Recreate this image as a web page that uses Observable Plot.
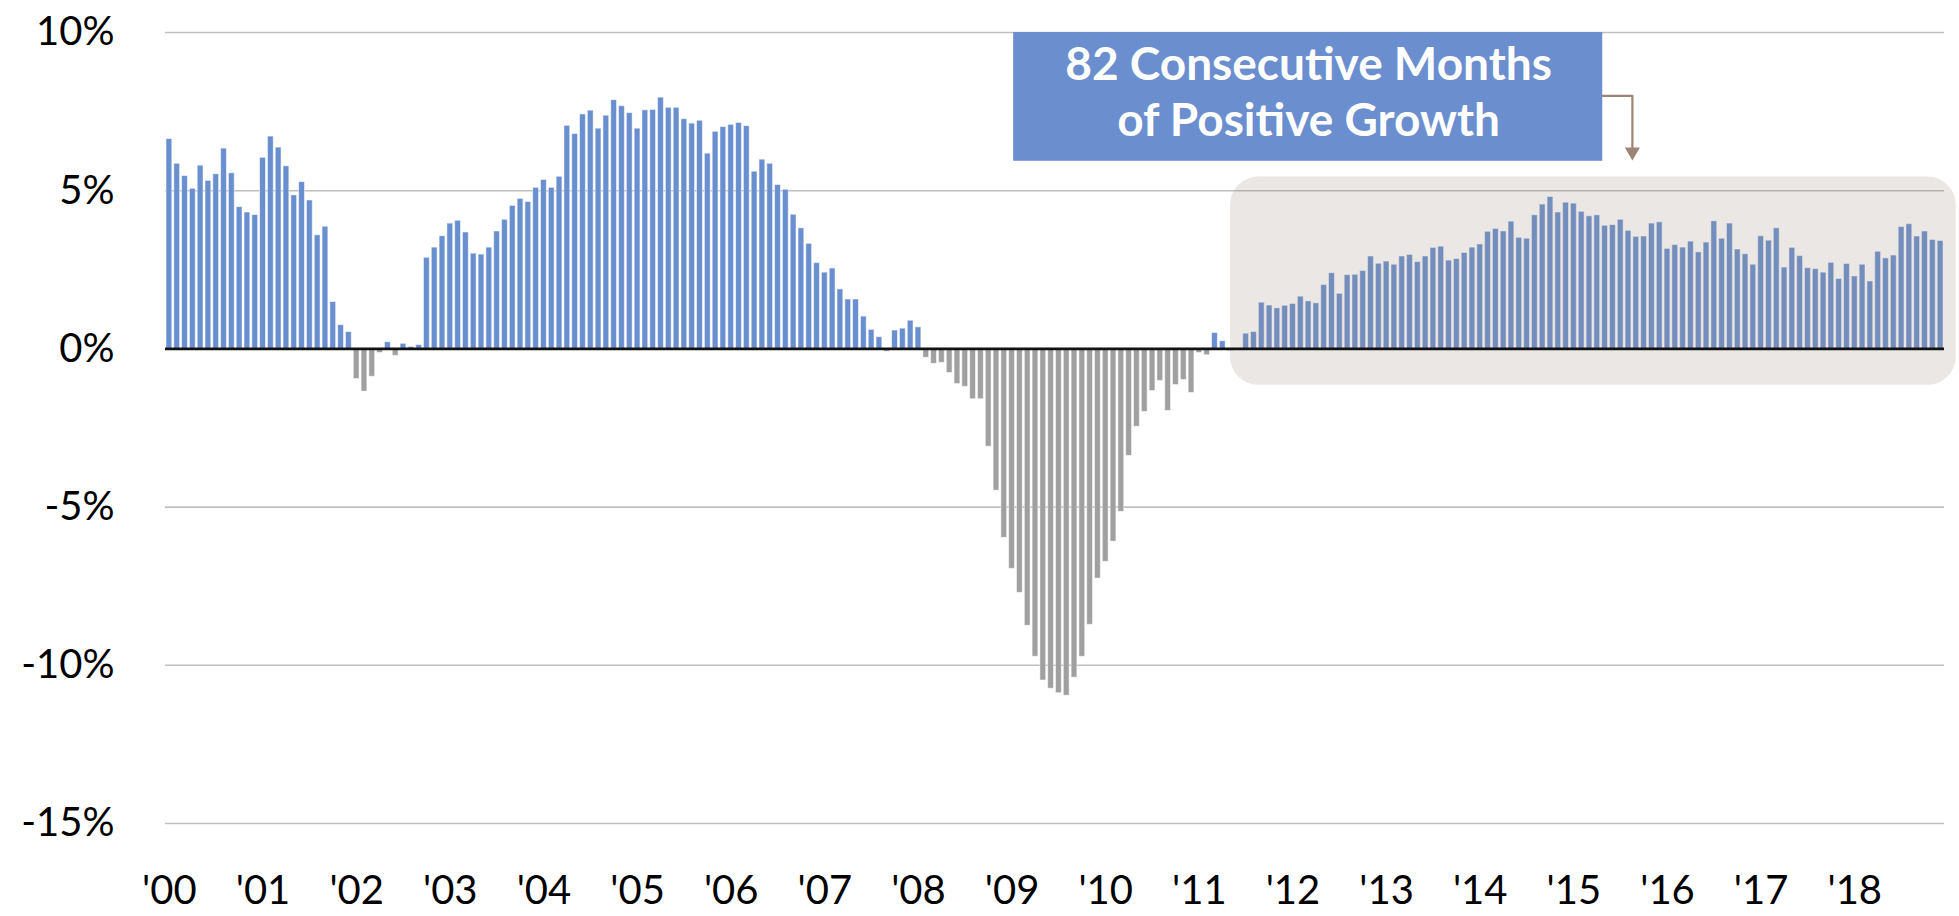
<!DOCTYPE html>
<html>
<head>
<meta charset="utf-8">
<script src="https://cdn.jsdelivr.net/npm/d3@7"></script>
<script src="https://cdn.jsdelivr.net/npm/@observablehq/plot@0.6"></script>
<style>
  html, body { margin: 0; padding: 0; background: #fff; }
  #chart svg { display: block; }
</style>
</head>
<body>
<div id="chart"></div>
<script>
// Year-over-year growth (%), monthly, Jan 2000 – Dec 2018
const v2000 = [6.63, 5.85, 5.46, 5.06, 5.79, 5.31, 5.52, 6.33, 5.55, 4.48, 4.31, 4.23];
const v2001 = [6.04, 6.71, 6.36, 5.77, 4.85, 5.27, 4.69, 3.59, 3.86, 1.48, 0.75, 0.53];
const v2002 = [-0.95, -1.35, -0.88, -0.13, 0.21, -0.22, 0.16, 0.06, 0.12, 2.88, 3.2, 3.56];
const v2003 = [3.96, 4.05, 3.68, 3.01, 2.98, 3.2, 3.71, 4.08, 4.52, 4.74, 4.64, 5.09];
const v2004 = [5.34, 5.09, 5.44, 7.05, 6.79, 7.41, 7.53, 6.96, 7.37, 7.86, 7.67, 7.45];
const v2005 = [6.96, 7.54, 7.55, 7.94, 7.62, 7.62, 7.26, 7.12, 7.21, 6.17, 6.86, 7.01];
const v2006 = [7.08, 7.14, 7.04, 5.6, 5.98, 5.85, 5.18, 5.03, 4.24, 3.81, 3.32, 2.71];
const v2007 = [2.41, 2.54, 1.88, 1.56, 1.56, 1.02, 0.6, 0.37, -0.09, 0.58, 0.64, 0.89];
const v2008 = [0.68, -0.28, -0.47, -0.44, -0.76, -1.11, -1.2, -1.59, -1.59, -3.09, -4.48, -5.97];
const v2009 = [-6.95, -7.71, -8.75, -9.73, -10.48, -10.74, -10.88, -10.96, -10.39, -9.73, -8.72, -7.26];
const v2010 = [-6.73, -6.09, -5.15, -3.38, -2.46, -1.99, -1.33, -1.01, -1.96, -1.14, -0.98, -1.39];
const v2011 = [-0.13, -0.2, 0.5, 0.24, -0.07, 0.0, 0.48, 0.53, 1.46, 1.37, 1.28, 1.36];
const v2012 = [1.42, 1.65, 1.5, 1.44, 2.02, 2.39, 1.74, 2.33, 2.34, 2.46, 2.92, 2.69];
const v2013 = [2.76, 2.66, 2.92, 2.97, 2.74, 2.92, 3.19, 3.23, 2.79, 2.84, 3.03, 3.2];
const v2014 = [3.3, 3.7, 3.79, 3.71, 4.02, 3.51, 3.48, 4.22, 4.56, 4.8, 4.31, 4.62];
const v2015 = [4.59, 4.33, 4.19, 4.22, 3.89, 3.91, 4.08, 3.73, 3.54, 3.55, 3.96, 4.0];
const v2016 = [3.16, 3.28, 3.2, 3.39, 3.05, 3.36, 4.03, 3.48, 3.96, 3.14, 2.99, 2.66];
const v2017 = [3.56, 3.42, 3.81, 2.57, 3.19, 2.93, 2.55, 2.52, 2.41, 2.72, 2.21, 2.68];
const v2018 = [2.29, 2.66, 2.13, 3.07, 2.86, 2.95, 3.85, 3.94, 3.55, 3.71, 3.44, 3.41];

const yearSeries = [v2000, v2001, v2002, v2003, v2004, v2005, v2006, v2007, v2008, v2009,
                    v2010, v2011, v2012, v2013, v2014, v2015, v2016, v2017, v2018];
const yearLabels = ["'00","'01","'02","'03","'04","'05","'06","'07","'08","'09",
                    "'10","'11","'12","'13","'14","'15","'16","'17","'18"];
const yTicks = [10, 5, 0, -5, -10, -15];
const gridTicks = [10, 5, -5, -10, -15];

// Annotation (in data units: month index, percent)
const calloutLines = ["82 Consecutive Months", "of Positive Growth"];
const calloutBox = [{x1: 108.2, x2: 183.7, y1: 5.93, y2: 10}];
const calloutText = [{x: 146, y: 8.17, t: calloutLines.join("\n")}];
const arrowPath = [{x: 183.7, y: 8.0}, {x: 187.5, y: 8.0}, {x: 187.5, y: 6.3}];
const arrowHead = [{x: 187.5, y: 6.23}];
const highlight = [{x1: 136.0, x2: 229.0, y1: -1.15, y2: 5.43}];

const data = yearSeries.flatMap((arr, yi) => arr.map((v, m) => ({i: yi * 12 + m, v})));
const pos = data.filter(d => d.v >= 0);
const neg = data.filter(d => d.v < 0);
const barHalf = 0.37;

const chart = Plot.plot({
  width: 1959,
  height: 916,
  marginTop: 32,
  marginBottom: 93,
  marginLeft: 165,
  marginRight: 15,
  style: {fontFamily: "Lato, 'DejaVu Sans', sans-serif", fontSize: "40px", color: "#000", background: "#fff"},
  x: {type: "linear", domain: [-0.5, 227.5]},
  y: {domain: [-15, 10]},
  marks: [
    Plot.ruleY(gridTicks, {stroke: "#BFBFBF", strokeWidth: 1.6}),
    Plot.rectY(pos, {x1: d => d.i - barHalf, x2: d => d.i + barHalf, y: "v", fill: "#6A8FCF",
                     stroke: "#ffffff", strokeOpacity: 0.55, strokeWidth: 0.9}),
    Plot.rectY(neg, {x1: d => d.i - barHalf, x2: d => d.i + barHalf, y: "v", fill: "#A0A0A0",
                     stroke: "#ffffff", strokeOpacity: 0.55, strokeWidth: 0.9}),
    Plot.rect(highlight, {x1: "x1", x2: "x2", y1: "y1", y2: "y2", fill: "#9C8577", fillOpacity: 0.2, rx: 28, ry: 28}),
    Plot.ruleY([0], {stroke: "#111", strokeWidth: 2.6}),
    Plot.rect(calloutBox, {x1: "x1", x2: "x2", y1: "y1", y2: "y2", fill: "#6A8ECE"}),
    Plot.text(calloutText, {x: "x", y: "y", text: "t", fill: "#fff", fontWeight: "bold", fontSize: 46,
                            lineHeight: 1.22, fontFamily: "Lato, 'Open Sans', sans-serif"}),
    Plot.line(arrowPath, {x: "x", y: "y", stroke: "#9C8577", strokeWidth: 2.2, curve: "linear"}),
    Plot.dot(arrowHead, {x: "x", y: "y", symbol: "triangle", r: 5.6, rotate: 180, fill: "#9C8577", stroke: "none"}),
    Plot.axisY({ticks: yTicks, tickFormat: d => d + "%", tickSize: 0, tickPadding: 51, label: null, fontSize: 40}),
    Plot.axisX({ticks: yearLabels.map((_, k) => k * 12), tickFormat: d => yearLabels[Math.round(d / 12)],
                tickSize: 0, tickPadding: 52, label: null, fontSize: 40})
  ]
});
document.getElementById("chart").appendChild(chart);
</script>
</body>
</html>
